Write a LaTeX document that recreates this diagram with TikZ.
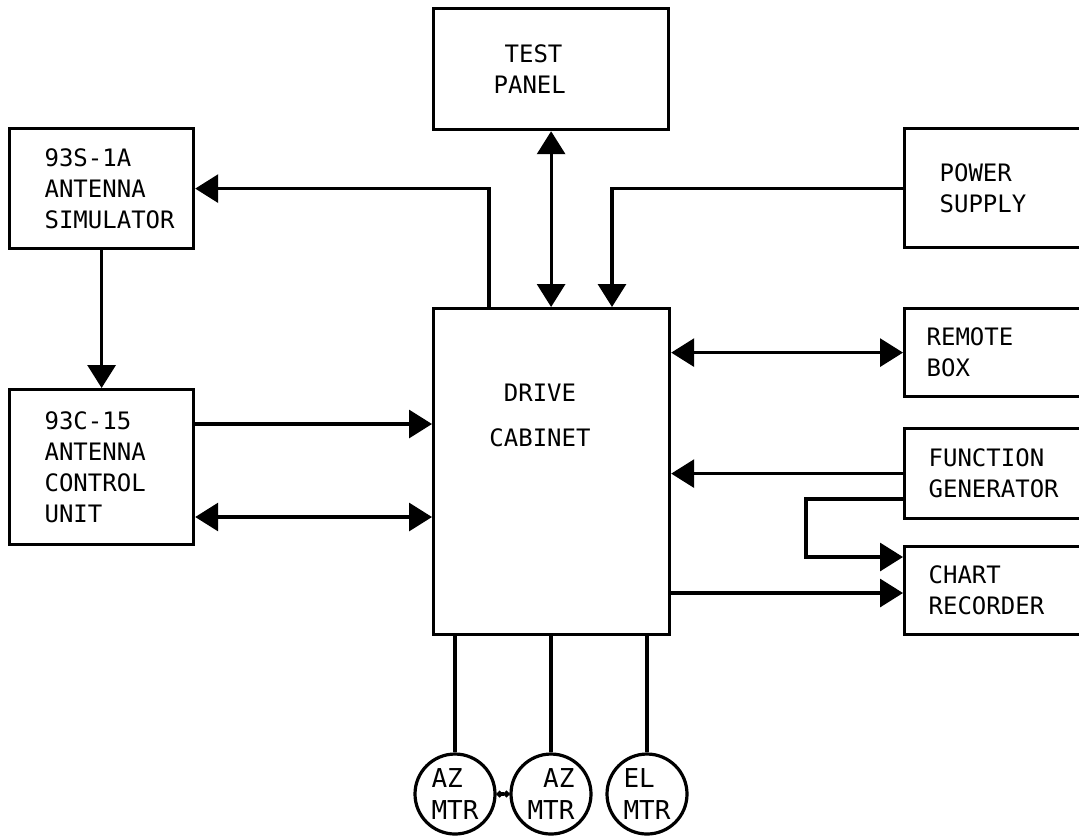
\documentclass[tikz,border=0pt]{standalone}
\usepackage{fontspec}
\usepackage{tikz}
\usetikzlibrary{positioning, calc, arrows.meta}
\newfontfamily\monofont{DejaVu Sans Mono}
\tikzset{
  block/.style={draw, line width=1.6pt, inner sep=0pt, align=left, anchor=north west,
    font=\monofont\fontsize{12}{15.5}\selectfont},
  motor/.style={draw, circle, line width=1.6pt, inner sep=0pt, minimum size=40pt,
    font=\monofont\fontsize{13}{16}\selectfont},
  conn/.style={line width=1.6pt},
  sig/.style={conn, -{Triangle[length=11.5pt,width=14pt]}},
  bus/.style={conn, {Triangle[length=11.5pt,width=14pt]}-{Triangle[length=11.5pt,width=14pt]}}
}

\begin{document}
\begin{tikzpicture}[x=0.5pt, y=-0.5pt]
    \useasboundingbox (0,0) rectangle (1079,837);
    \clip (0,0) rectangle (1079,837);

    % Drive cabinet
    \node[block, minimum width=118pt, minimum height=163pt] (cab) at (432,307) {};
    \node[anchor=north, align=center, inner sep=0pt, font=\monofont\fontsize{12}{15.5}\selectfont] (cabtext) at (540,384) {DRIVE\\[7pt]CABINET};

    % Boxes round the cabinet
    \node[block, minimum width=117.5pt, minimum height=60.5pt, text width=57.5pt] (tp) at (432,7) {\hspace*{5.5pt}TEST\\PANEL};
    \node[block, minimum width=92pt, minimum height=60pt, text width=57pt] (sim) at (8,127) {93S-1A\\ANTENNA\\SIMULATOR};
    \node[block, minimum width=92pt, minimum height=77.5pt, text width=57pt] (acu) at (8,388) {93C-15\\ANTENNA\\CONTROL\\UNIT};
    \node[block, minimum width=108.5pt, minimum height=59.5pt, text width=73.5pt] (ps) at (903,127) {POWER\\SUPPLY};
    \node[block, minimum width=108.5pt, minimum height=44pt, text width=86.5pt] (rb) at (903,307) {REMOTE\\BOX};
    \node[block, minimum width=108.5pt, minimum height=45pt, text width=84.5pt] (fg) at (903,427) {FUNCTION\\GENERATOR};
    \node[block, minimum width=108.5pt, minimum height=44pt, text width=84.5pt] (cr) at (903,545) {CHART\\RECORDER};

    % Motors
    \node[motor, align=left] (m1) at (455,794) {AZ\\MTR};
    \node[motor, align=right] (m2) at (551,794) {AZ\\MTR};
    \node[motor, align=left] (m3) at (647,794) {EL\\MTR};

    % Top and left connections
    \draw[sig] ($(cab.north west)+(57,0)$) |- (sim.east);
    \draw[bus] (tp.south) -- (tp.south |- cab.north);
    \draw[sig] (ps.west) -| ($(cab.north west)+(180,0)$);
    \draw[sig] (sim.south) -- (acu.north);
    \coordinate (a1) at ($(acu.north east)+(0,36)$);
    \coordinate (a2) at ($(acu.north east)+(0,129)$);
    \draw[sig] (a1) -- (a1 -| cab.west);
    \draw[bus] (a2) -- (a2 -| cab.west);

    % Right connections
    \draw[bus] (rb.west -| cab.east) -- (rb.west);
    \draw[sig] (fg.west) -- (fg.west -| cab.east);
    \coordinate (f1) at ($(fg.north west)+(0,72)$);
    \coordinate (c1) at ($(cr.north west)+(0,12)$);
    \coordinate (c2) at ($(cr.north west)+(0,48)$);
    \draw[sig] (f1) -| ($(c1)+(-97,0)$) -- (c1);
    \draw[sig] (c2 -| cab.east) -- (c2);

    % Motor leads
    \draw[conn] (cab.south -| m1) -- (m1);
    \draw[conn] (cab.south -| m2) -- (m2);
    \draw[conn] (cab.south -| m3) -- (m3);
    \draw[conn, dash pattern=on 1.5pt off 1.2pt, {Circle[length=3pt]}-{Circle[length=3pt]}] (m1) -- (m2);
\end{tikzpicture}
\end{document}
